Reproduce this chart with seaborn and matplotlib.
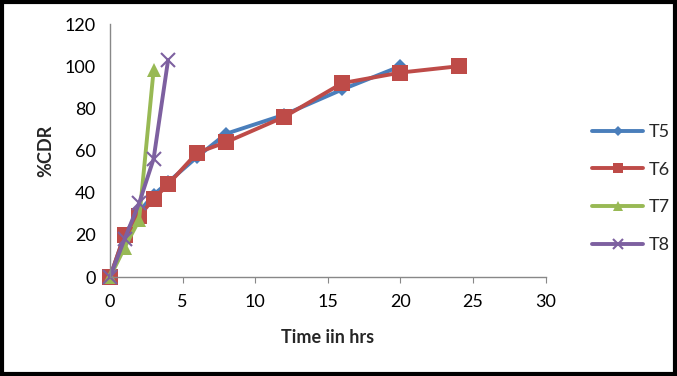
import matplotlib
matplotlib.use('Agg')
import matplotlib.pyplot as plt
import seaborn as sns
import pandas as pd
from matplotlib.patches import Rectangle

# release data (time in hrs vs %CDR)
t5_time = [0, 1, 2, 3, 4, 6, 8, 12, 16, 20]
t5_cdr = [0, 20, 31, 39, 45, 57, 68, 77, 89, 100]
t6_time = [0, 1, 2, 3, 4, 6, 8, 12, 16, 20, 24]
t6_cdr = [0, 20, 29, 37, 44, 59, 64, 76, 92, 97, 100]
t7_time = [0, 1, 2, 3]
t7_cdr = [0, 14, 27, 98]
t8_time = [0, 1, 2, 3, 4]
t8_cdr = [0, 18, 35, 56, 103]

rows = []
for name, tt, vv in [('T5', t5_time, t5_cdr), ('T6', t6_time, t6_cdr),
                     ('T7', t7_time, t7_cdr), ('T8', t8_time, t8_cdr)]:
    for a, b in zip(tt, vv):
        rows.append({'time': a, 'cdr': b, 'batch': name})
df = pd.DataFrame(rows)

sns.set_style('white')
plt.rcParams['font.family'] = ['Lato', 'DejaVu Sans']

fig = plt.figure(figsize=(6.77, 3.76), dpi=100)
ax = fig.add_axes([0.1625, 0.263, 0.6435, 0.673])

colors = {'T5': '#4A7EBB', 'T6': '#BE4B48', 'T7': '#98B954', 'T8': '#7D60A0'}
markers = {'T5': 'D', 'T6': 's', 'T7': '^', 'T8': 'x'}
sizes = {'T5': 7, 'T6': 11, 'T7': 10, 'T8': 10}

for name in ['T5', 'T6', 'T7', 'T8']:
    sub = df[df['batch'] == name]
    sns.lineplot(data=sub, x='time', y='cdr', ax=ax, color=colors[name], lw=2.8,
                 marker=markers[name], markersize=sizes[name],
                 markeredgewidth=1.5 if name == 'T8' else 0,
                 markeredgecolor=colors[name], label=name, clip_on=False)

ax.set_xlim(0, 30)
ax.set_ylim(0, 120)
ax.set_xticks(range(0, 31, 5))
ax.set_yticks(range(0, 121, 20))
ax.tick_params(axis='both', labelsize=13, colors='black')
ax.tick_params(axis='x', direction='out', length=4, color='#888888', bottom=True, pad=8)
ax.tick_params(axis='y', length=0, pad=10)
for s in ['top', 'right']:
    ax.spines[s].set_visible(False)
for s in ['left', 'bottom']:
    ax.spines[s].set_color('#888888')
    ax.spines[s].set_linewidth(1)
ax.set_xlabel('Time iin hrs', fontsize=13, fontweight='bold', labelpad=14)
ax.set_ylabel('%CDR', fontsize=13, fontweight='bold', labelpad=8)

leg = ax.legend(loc='center left', bbox_to_anchor=(1.07, 0.35), frameon=False,
                fontsize=13, handlelength=2.8, labelspacing=1.2, handletextpad=0.3,
                markerscale=0.7)

fig.patches.append(Rectangle((0.003, 0.005), 0.994, 0.99, transform=fig.transFigure,
                             fill=False, edgecolor='black', linewidth=3))

fig.savefig('out.png', dpi=100)
